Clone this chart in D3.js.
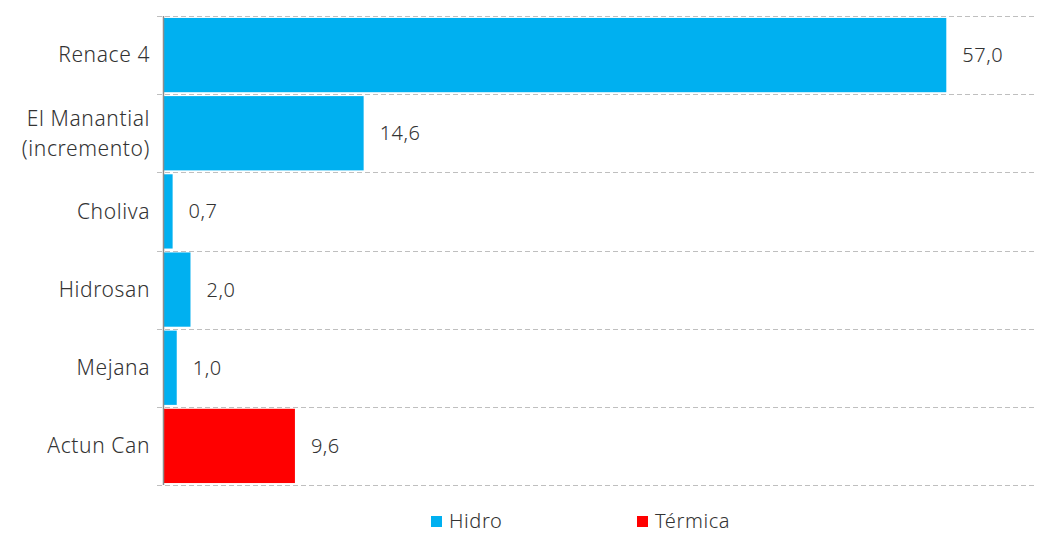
<!DOCTYPE html>
<html>
<head>
<meta charset="utf-8">
<script src="https://cdn.jsdelivr.net/npm/d3@7"></script>
<style>
body { margin: 0; background: #fff; }
svg { font-family: "Noto Sans", sans-serif; font-weight: 300; }
</style>
</head>
<body>
<svg width="1041" height="535"></svg>
<script>
var categories = ["Renace 4", "El Manantial\n(incremento)", "Choliva", "Hidrosan", "Mejana", "Actun Can"];
var values = [57.0, 14.6, 0.7, 2.0, 1.0, 9.6];
var types = ["Hidro", "Hidro", "Hidro", "Hidro", "Hidro", "Térmica"];
var legendNames = ["Hidro", "Térmica"];
var colors = {"Hidro": "#00b0f0", "Térmica": "#ff0000"};

var svg = d3.select("svg"),
margin = {top: 16, right: 4, bottom: 50, left: 163},
width = +svg.attr("width") - margin.left - margin.right,
height = +svg.attr("height") - margin.top - margin.bottom,
g = svg.append("g").attr("transform", "translate(" + margin.left + "," + margin.top + ")");

var x = d3.scaleLinear().domain([0, 63.6]).range([0, width]);
var y = d3.scaleBand().domain(categories).range([0, height]).paddingInner(0.05).paddingOuter(0.025);

// dashed separators between categories
var bounds = d3.range(categories.length + 1).map(function(i) { return i * height / categories.length; });
g.selectAll(".sep")
.data(bounds)
.enter().append("line")
.attr("x1", -6).attr("x2", width)
.attr("y1", function(d) { return Math.round(d) + 0.5; })
.attr("y2", function(d) { return Math.round(d) + 0.5; })
.attr("stroke", "#bfbfbf")
.attr("stroke-width", 1.2)
.attr("stroke-dasharray", "5,3");

g.selectAll(".bar")
.data(categories)
.enter().append("rect")
.attr("x", x(0))
.attr("y", function(d) { return y(d); })
.attr("width", function(d, i) { return x(values[i]) - x(0); })
.attr("height", y.bandwidth())
.attr("fill", function(d, i) { return colors[types[i]]; });

// axis line
g.append("line")
.attr("x1", 0.5).attr("x2", 0.5)
.attr("y1", 0).attr("y2", height)
.attr("stroke", "#8c8c8c")
.attr("stroke-width", 1.5);

// category labels
var labels = g.selectAll(".cat")
.data(categories)
.enter().append("text")
.attr("text-anchor", "end")
.attr("fill", "#333")
.style("font-size", "21px")
.style("letter-spacing", "0.6px")
.attr("transform", function(d) { return "translate(-13," + (y(d) + y.bandwidth() / 2) + ")"; });

labels.each(function(d) {
  var lines = d.split("\n");
  var t = d3.select(this);
  lines.forEach(function(l, k) {
    t.append("tspan")
    .attr("x", 0)
    .attr("y", (k - (lines.length - 1) / 2) * 30)
    .attr("dy", "0.35em")
    .text(l);
  });
});

// value labels
g.selectAll(".val")
.data(categories)
.enter().append("text")
.attr("x", function(d, i) { return x(values[i]) + 16; })
.attr("y", function(d) { return y(d) + y.bandwidth() / 2; })
.attr("dy", "0.35em")
.attr("fill", "#333")
.style("font-size", "20px")
.style("letter-spacing", "0.5px")
.text(function(d, i) { return values[i].toFixed(1).replace(".", ","); });

// legend
var legend = svg.append("g").attr("transform", "translate(431,514)");
var item = legend.selectAll(".leg")
.data(legendNames)
.enter().append("g")
.attr("transform", function(d, i) { return "translate(" + (i * 206) + ",0)"; });
item.append("rect")
.attr("width", 11).attr("height", 11)
.attr("y", 2)
.attr("fill", function(d) { return colors[d]; });
item.append("text")
.attr("x", 18).attr("y", 7)
.attr("dy", "0.35em")
.attr("fill", "#333")
.style("font-size", "20px")
.style("letter-spacing", "0.6px")
.text(function(d) { return d; });
</script>
</body>
</html>
